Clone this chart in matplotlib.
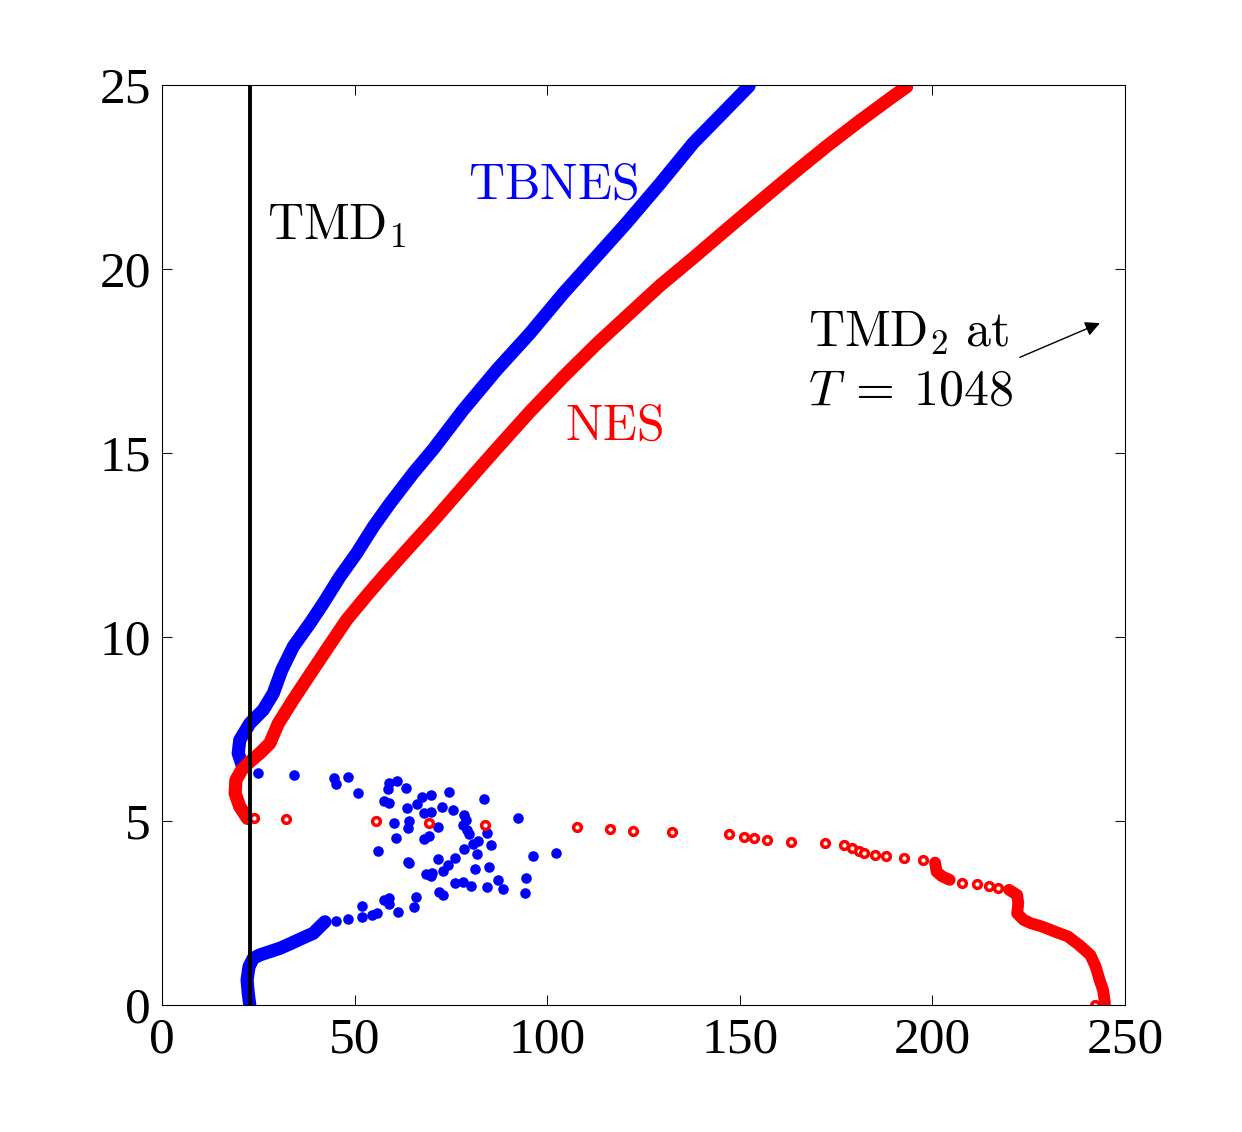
import matplotlib
matplotlib.use("Agg")
import matplotlib.pyplot as plt

# data

# black vertical line (TMD1)
tmd1_x = 22.8

# TBNES, upper branch (dense dots)
blue_up_x = [21.1, 19.8, 20.2, 22.8, 26.3, 28.9, 31.1, 34.1, 38.4, 41.9, 46.2, 50.5,
             54.9, 59.2, 65.2, 70.4, 78.2, 86.9, 95.5, 104.2, 112.8, 120.6, 129.3,
             137.9, 146.6, 152.4]
blue_up_y = [6.43, 6.84, 7.20, 7.65, 8.02, 8.47, 9.10, 9.74, 10.37, 10.92, 11.64, 12.27,
             13.00, 13.63, 14.45, 15.10, 16.17, 17.26, 18.25, 19.34, 20.34, 21.25, 22.32,
             23.42, 24.35, 24.97]

# TBNES, lower branch (dense dots)
blue_low_x = [22.8, 22.4, 22.1, 22.6, 23.7, 25.4, 28.0, 30.6, 33.2, 36.3, 39.3, 41.0, 42.3]
blue_low_y = [0.0, 0.32, 0.68, 1.04, 1.27, 1.36, 1.45, 1.54, 1.66, 1.81, 1.95, 2.13, 2.26]

# TBNES, scattered dots
blue_pts_x = [25.0, 34.3, 44.7, 45.2, 48.4, 50.8, 59.0, 61.1, 58.7, 63.3, 67.6, 69.8,
              66.3, 74.6, 83.6, 57.6, 59.0, 63.7, 72.6, 75.5, 68.1, 69.8, 78.5, 78.9,
              64.2, 63.9, 60.3, 71.6, 78.2, 79.3, 79.8, 84.3, 92.5, 60.7, 68.1, 69.4,
              82.1, 80.7, 78.5, 85.4, 56.0, 81.9, 96.2, 102.3, 63.8, 64.2, 71.7, 76.1,
              74.3, 72.9, 81.3, 85.0, 68.5, 69.8, 70.0, 76.1, 78.2, 80.1, 87.3, 88.6,
              84.5, 94.5, 94.2, 72.0, 72.9, 65.9, 57.6, 59.0, 59.0, 61.3, 65.5, 51.8,
              51.8, 54.4, 55.7, 48.4, 45.2]
blue_pts_y = [6.30, 6.25, 6.16, 6.01, 6.20, 5.75, 6.04, 6.10, 5.86, 5.89, 5.66, 5.71,
              5.46, 5.80, 5.59, 5.55, 5.50, 5.34, 5.39, 5.30, 5.21, 5.25, 5.16, 5.03,
              5.01, 4.80, 4.95, 4.85, 4.89, 4.76, 4.64, 4.68, 5.09, 4.55, 4.50, 4.59,
              4.46, 4.37, 4.23, 4.35, 4.19, 4.09, 4.05, 4.14, 3.89, 3.85, 3.96, 4.00,
              3.80, 3.64, 3.69, 3.74, 3.56, 3.51, 3.60, 3.31, 3.35, 3.24, 3.40, 3.14,
              3.20, 3.46, 3.04, 3.08, 2.99, 2.94, 2.85, 2.90, 2.74, 2.54, 2.65, 2.70,
              2.40, 2.45, 2.49, 2.34, 2.29]

# NES, upper branch (dense circles)
red_up_x = [22.2, 20.2, 19.0, 19.2, 20.7, 22.8, 25.4, 28.0, 30.2, 34.1, 38.4, 42.8,
            47.9, 53.1, 58.3, 64.4, 70.4, 76.5, 82.0, 87.0, 95.5, 104.2, 112.8, 121.5,
            129.3, 137.9, 146.6, 155.2, 163.9, 172.6, 181.2, 189.9, 193.3]
red_up_y = [5.07, 5.39, 5.75, 6.11, 6.39, 6.61, 6.84, 7.11, 7.65, 8.30, 8.98, 9.67,
            10.46, 11.12, 11.75, 12.46, 13.15, 13.88, 14.54, 15.13, 16.12, 17.07, 17.96,
            18.80, 19.55, 20.30, 21.08, 21.84, 22.60, 23.34, 24.03, 24.70, 24.95]

# NES, lower branch: separate circles
red_pts_x = [23.9, 32.2, 55.6, 69.3, 83.9, 107.8, 116.2, 122.2, 132.3, 147.2, 151.0,
             153.6, 157.0, 163.2, 172.1, 177.0, 179.1, 181.0, 182.2, 185.0, 188.0,
             192.5, 197.6, 207.6, 211.5, 214.8, 217.0, 242.2]
red_pts_y = [5.07, 5.05, 5.00, 4.94, 4.89, 4.85, 4.78, 4.74, 4.69, 4.65, 4.57,
             4.53, 4.48, 4.44, 4.39, 4.35, 4.26, 4.19, 4.12, 4.08, 4.05,
             3.99, 3.94, 3.32, 3.28, 3.23, 3.19, 0.0]

# NES, lower branch: dense stretches
red_seg1_x = [200.7, 201.1, 202.6, 204.5]
red_seg1_y = [3.87, 3.62, 3.49, 3.40]
red_seg2_x = [219.9, 222.0, 222.3, 222.0, 223.7, 225.6, 228.5, 231.9, 235.2, 238.1,
              241.0, 242.4, 243.4, 244.3, 244.8]
red_seg2_y = [3.13, 2.99, 2.76, 2.49, 2.31, 2.22, 2.13, 1.99, 1.86, 1.63,
              1.36, 1.04, 0.68, 0.41, 0.05]

x_ticks = [0, 50, 100, 150, 200, 250]
y_ticks = [0, 5, 10, 15, 20, 25]

plt.rcParams['mathtext.fontset'] = 'cm'
plt.rcParams['font.family'] = ['Liberation Serif', 'DejaVu Serif']

fig = plt.figure(figsize=(12.42, 11.32), dpi=100)
ax = fig.add_axes([0.1304, 0.1122, 0.7754, 0.8127])

BLUE = (0, 0, 1)
RED = (1, 0, 0)

# dense curves drawn as thick round lines
thick = dict(lw=9.5, solid_capstyle='round', solid_joinstyle='round')
ax.plot(blue_up_x, blue_up_y, color=BLUE, **thick)
ax.plot(blue_low_x, blue_low_y, color=BLUE, **thick)
ax.plot(red_up_x, red_up_y, color=RED, **thick)
ax.plot(red_seg1_x, red_seg1_y, color=RED, lw=8.5, solid_capstyle='round')
ax.plot(red_seg2_x, red_seg2_y, color=RED, lw=8.5, solid_capstyle='round',
        solid_joinstyle='round')

# scattered points
ax.plot(blue_pts_x, blue_pts_y, 'o', color=BLUE, ms=7.6, mec='none')
ax.plot(red_pts_x, red_pts_y, 'o', mfc='white', mec=RED, ms=5.6, mew=2.5)

ax.axvline(tmd1_x, color='black', lw=2.8, zorder=5)

# labels
fs = 36
ax.text(27.3, 20.8, r'$\mathrm{TMD}_1$', fontsize=fs, color='black')
ax.text(79.4, 21.9, r'$\mathrm{TBNES}$', fontsize=fs, color=BLUE)
ax.text(104.6, 15.35, r'$\mathrm{NES}$', fontsize=fs, color=RED)
ax.text(167.7, 17.9, r'$\mathrm{TMD}_2\ \mathrm{at}$', fontsize=fs, color='black')
ax.text(167.7, 16.3, r'$T\:=\:1048$', fontsize=fs, color='black')
ax.annotate('', xy=(243.5, 18.53), xytext=(222.7, 17.6),
            arrowprops=dict(arrowstyle='-|>', color='black', lw=1.0,
                            mutation_scale=22, shrinkA=0, shrinkB=0))

ax.set_xlim(0, 250)
ax.set_ylim(0, 25)
ax.set_xticks(x_ticks)
ax.set_yticks(y_ticks)
ax.tick_params(direction='in', length=7, width=0.7, top=True, right=True,
               labelsize=37)
ax.tick_params(axis='x', pad=9)
ax.tick_params(axis='y', pad=8)
for s in ax.spines.values():
    s.set_linewidth(0.8)

fig.savefig('out.png', dpi=100)
